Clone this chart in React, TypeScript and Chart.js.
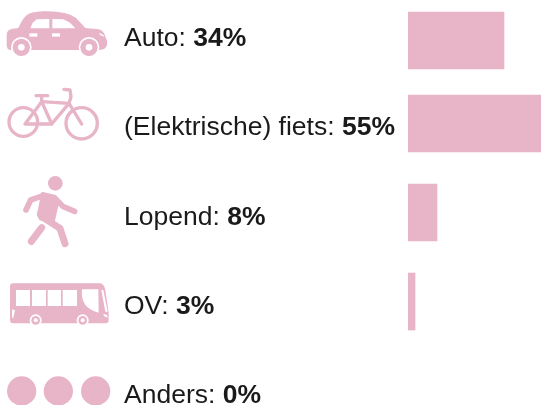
import React, { useEffect, useRef } from "react";
import { Chart, registerables } from "chart.js";

Chart.register(...registerables);

const categories = ["Auto", "(Elektrische) fiets", "Lopend", "OV", "Anders"];
// Percentages as printed in the labels.
const shares = [34, 55, 8, 3, 0];
// Bar lengths as drawn in the picture (they do not follow the printed shares exactly).
const barLengths = [39.7, 55, 12, 2.9, 0];
// Row position on the vertical scale: the rows are not evenly spaced in the picture.
const rowPositions = [0, 0.933, 1.933, 2.933, 3.933];
const labelShift = [-1.5, 4.5, 5.5, 5.5, 5];

const PINK = "#E8B4C8";
const INK = "#1A1A1A";
const FONT = '"Liberation Sans", Arial, sans-serif';
const FONT_SIZE = 26.5;

type Ctx = CanvasRenderingContext2D;

function poly(ctx: Ctx, pts: number[][], color: string) {
  ctx.fillStyle = color;
  ctx.beginPath();
  pts.forEach(([x, y], i) => (i ? ctx.lineTo(x, y) : ctx.moveTo(x, y)));
  ctx.closePath();
  ctx.fill();
}
function disc(ctx: Ctx, x: number, y: number, r: number, color: string) {
  ctx.fillStyle = color;
  ctx.beginPath();
  ctx.arc(x, y, r, 0, Math.PI * 2);
  ctx.fill();
}
function stroke(ctx: Ctx, pts: number[][], width: number) {
  ctx.strokeStyle = PINK;
  ctx.lineWidth = width;
  ctx.lineCap = "round";
  ctx.lineJoin = "round";
  ctx.beginPath();
  pts.forEach(([x, y], i) => (i ? ctx.lineTo(x, y) : ctx.moveTo(x, y)));
  ctx.stroke();
}

function drawCar(ctx: Ctx) {
  ctx.fillStyle = PINK;
  ctx.beginPath();
  ctx.moveTo(20, 105);
  ctx.quadraticCurveTo(20, 88, 38, 86);
  ctx.lineTo(55, 84);
  ctx.quadraticCurveTo(65, 60, 78, 47);
  ctx.quadraticCurveTo(92, 35, 130, 34);
  ctx.quadraticCurveTo(200, 32, 228, 54);
  ctx.lineTo(256, 84);
  ctx.lineTo(296, 88);
  ctx.quadraticCurveTo(312, 92, 316, 110);
  ctx.quadraticCurveTo(326, 128, 318, 142);
  ctx.quadraticCurveTo(312, 150, 295, 150);
  ctx.lineTo(32, 150);
  ctx.quadraticCurveTo(20, 150, 20, 135);
  ctx.closePath();
  ctx.fill();
  poly(ctx, [[91, 85], [98, 68], [110, 58], [148, 57], [148, 85]], "#fff");
  poly(ctx, [[157, 57], [190, 58], [210, 68], [226, 85], [157, 85]], "#fff");
  poly(ctx, [[88, 100], [112, 100], [112, 110], [88, 110]], "#fff");
  poly(ctx, [[156, 100], [180, 100], [180, 110], [156, 110]], "#fff");
  poly(ctx, [[297, 99], [310, 104], [312, 110], [300, 105]], "#fff");
  for (const x of [64, 267]) {
    disc(ctx, x, 142, 31, "#fff");
    disc(ctx, x, 142, 26, PINK);
    disc(ctx, x, 142, 10, "#fff");
  }
}

function drawBike(ctx: Ctx) {
  ctx.strokeStyle = PINK;
  ctx.lineWidth = 10;
  ctx.beginPath();
  ctx.arc(70, 366, 43, 0, Math.PI * 2);
  ctx.stroke();
  ctx.beginPath();
  ctx.arc(245, 370, 47, 0, Math.PI * 2);
  ctx.stroke();
  stroke(ctx, [[75, 372], [155, 372], [207, 310], [125, 305], [75, 372]], 10);
  stroke(ctx, [[125, 305], [155, 372]], 10);
  stroke(ctx, [[125, 305], [125, 287]], 10);
  stroke(ctx, [[108, 287], [143, 287]], 10);
  stroke(ctx, [[245, 372], [207, 310], [213, 290], [210, 270], [192, 268]], 10);
}

function drawWalker(ctx: Ctx) {
  disc(ctx, 166, 55, 22, PINK);
  poly(ctx, [[125, 80], [168, 90], [178, 110], [162, 180], [118, 165], [110, 150]], PINK);
  stroke(ctx, [[130, 92], [92, 105], [78, 135]], 17);
  stroke(ctx, [[165, 100], [190, 125], [224, 139]], 17);
  stroke(ctx, [[130, 158], [180, 190], [195, 236]], 21);
  stroke(ctx, [[125, 188], [94, 229]], 21);
}

function drawBus(ctx: Ctx) {
  ctx.fillStyle = PINK;
  ctx.beginPath();
  ctx.moveTo(40, 355);
  ctx.lineTo(300, 355);
  ctx.quadraticCurveTo(312, 356, 316, 375);
  ctx.lineTo(326, 445);
  ctx.lineTo(326, 465);
  ctx.quadraticCurveTo(326, 475, 316, 475);
  ctx.lineTo(40, 475);
  ctx.quadraticCurveTo(30, 475, 30, 465);
  ctx.lineTo(30, 365);
  ctx.quadraticCurveTo(30, 355, 40, 355);
  ctx.closePath();
  ctx.fill();
  for (const [a, b] of [[48, 90], [96, 138], [143, 183], [188, 231]]) {
    poly(ctx, [[a, 375], [b, 375], [b, 423], [a, 423]], "#fff");
  }
  ctx.fillStyle = "#fff";
  ctx.beginPath();
  ctx.moveTo(246, 373);
  ctx.lineTo(295, 373);
  ctx.lineTo(296, 443);
  ctx.quadraticCurveTo(240, 430, 246, 373);
  ctx.closePath();
  ctx.fill();
  poly(ctx, [[304, 375], [310, 375], [323, 440], [316, 440]], "#fff");
  poly(ctx, [[36, 433], [45, 436], [40, 458], [36, 458]], "#fff");
  poly(ctx, [[310, 446], [322, 451], [322, 458], [312, 453]], "#fff");
  for (const x of [107, 248]) {
    disc(ctx, x, 466, 18, "#fff");
    disc(ctx, x, 466, 13, PINK);
    disc(ctx, x, 466, 6, "#fff");
  }
}

function drawDots(ctx: Ctx) {
  for (const x of [65, 175, 287]) disc(ctx, x, 678, 44, PINK);
}

const iconPainters: { draw: (c: Ctx) => void; dy: number }[] = [
  { draw: drawCar, dy: 0 },
  { draw: drawBike, dy: 0 },
  { draw: drawWalker, dy: 165 },
  { draw: drawBus, dy: 165 },
  { draw: drawDots, dy: 165 },
];

const rowDecor = {
  id: "rowDecor",
  afterDatasetsDraw(chart: Chart) {
    const ctx = chart.ctx;
    const yScale = chart.scales.y;
    ctx.save();
    iconPainters.forEach(({ draw, dy }) => {
      ctx.save();
      ctx.translate(0, dy);
      ctx.scale(1 / 3, 1 / 3);
      draw(ctx);
      ctx.restore();
    });
    ctx.textBaseline = "middle";
    ctx.textAlign = "left";
    ctx.fillStyle = INK;
    categories.forEach((name, i) => {
      const y = yScale.getPixelForValue(rowPositions[i]) + labelShift[i];
      const lead = `${name}: `;
      ctx.font = `${FONT_SIZE}px ${FONT}`;
      ctx.fillText(lead, 124, y);
      const w = ctx.measureText(lead).width;
      ctx.font = `bold ${FONT_SIZE}px ${FONT}`;
      ctx.fillText(`${shares[i]}%`, 124 + w, y);
    });
    ctx.restore();
  },
};

export default function App() {
  const ref = useRef<HTMLCanvasElement>(null);
  useEffect(() => {
    document.body.style.margin = "0";
    const chart = new Chart(ref.current!, {
      type: "bar",
      data: {
        datasets: [
          {
            data: barLengths
              .map((x, i) => ({ x, y: rowPositions[i] }))
              .filter((p) => p.x > 0),
            backgroundColor: PINK,
            barThickness: 57,
            borderWidth: 0,
          },
        ],
      },
      options: {
        indexAxis: "y",
        animation: false,
        responsive: false,
        layout: { padding: { left: 408 } },
        plugins: { legend: { display: false }, tooltip: { enabled: false } },
        scales: {
          x: { type: "linear", display: false, min: 0, max: 55 },
          y: {
            type: "linear",
            display: false,
            offset: false,
            reverse: true,
            min: -40.5 / 89,
            max: (405 - 40.5) / 89,
          },
        },
      },
      plugins: [rowDecor],
    });
    return () => chart.destroy();
  }, []);
  return <canvas ref={ref} width={541} height={405} style={{ display: "block" }} />;
}
